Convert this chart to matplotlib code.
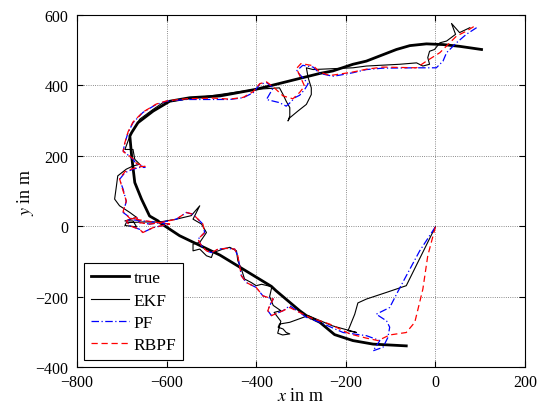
import numpy as np
import matplotlib
matplotlib.use('Agg')
import matplotlib.pyplot as plt

plt.rcParams['font.family'] = ['Liberation Serif', 'DejaVu Serif']
plt.rcParams['mathtext.fontset'] = 'stix'

# true trajectory
true_x = [-65, -139, -184, -225, -258, -288, -303, -356, -366, -481, -571, -615,
          -619, -638, -656, -671, -678, -682, -678, -664, -630, -593, -548, -481,
          -400, -258, -229, -184, -154, -87, -57, -20, 17, 54, 103]
true_y = [-340, -335, -325, -308, -273, -254, -240, -183, -171, -82, -27, 10,
          15, 29, 77, 124, 199, 256, 266, 294, 327, 355, 365, 370,
          389, 434, 441, 460, 469, 502, 513, 518, 516, 511, 502]

# EKF
ekf_x = [0, -65, -109, -154, -173, -180, -195, -176, -230, -284, -325, -348, -351,
         -340, -333, -325, -341, -352, -345, -360, -345, -362, -370, -365, -388,
         -400, -411, -426, -433, -441, -444, -459, -474, -496, -500, -511, -526,
         -541, -541, -526, -511, -522, -541, -526, -545, -578, -615, -653, -690,
         -693, -667, -675, -693, -667, -682, -705, -716, -712, -709, -690, -675,
         -660, -671, -675, -693, -682, -660, -630, -608, -563, -504, -400, -348,
         -340, -333, -325, -325, -329, -325, -307, -288, -277, -277, -284, -288,
         -273, -184, -154, -80, -42, -28, -13, -17, -13, -2, 10, 25, 45, 36, 54, 77]
ekf_y = [-2, -169, -188, -207, -218, -250, -297, -302, -283, -254, -273, -278, -287,
         -292, -302, -306, -309, -304, -270, -245, -240, -225, -200, -172, -165,
         -169, -160, -150, -122, -98, -70, -60, -65, -75, -89, -84, -65,
         -70, -51, -46, -18, 6, 20, 58, 30, 20, 12, 12, 10,
         2, -2, 15, 15, 25, 39, 58, 77, 114, 143, 162, 171,
         176, 190, 218, 218, 256, 304, 332, 351, 360, 370, 389, 393,
         374, 355, 337, 313, 299, 308, 327, 346, 374, 393, 422, 450,
         445, 450, 455, 460, 464, 455, 460, 479, 497, 502, 521, 526, 545, 576, 550, 564]

# PF
pf_x = [0, -35, -65, -83, -102, -132, -109, -102, -106, -117, -139, -124, -154,
        -206, -258, -288, -303, -325, -340, -366, -374, -370, -362, -385, -400,
        -422, -433, -437, -441, -448, -467, -485, -500, -511, -522, -530, -515,
        -519, -530, -541, -556, -578, -615, -638, -660, -667, -690, -682, -660,
        -653, -630, -593, -630, -675, -697, -690, -697, -705, -693, -675, -660,
        -648, -667, -675, -697, -693, -686, -675, -653, -623, -600, -556, -496,
        -459, -429, -407, -392, -377, -362, -377, -348, -333, -325, -314, -303,
        -292, -284, -310, -296, -273, -258, -229, -214, -184, -154, -117, -42,
        2, 17, 25, 47, 69, 92]
pf_y = [-2, -70, -141, -184, -231, -250, -269, -287, -316, -344, -354, -325, -311,
        -302, -273, -259, -245, -226, -240, -254, -240, -226, -207, -198, -174,
        -160, -141, -113, -84, -65, -63, -65, -75, -70, -56, -37, -18,
        6, 20, 34, 39, 20, 10, 6, 10, 25, 15, 1, -9,
        -18, -4, 6, 12, 18, 39, 70, 105, 133, 152, 162, 167,
        167, 176, 190, 214, 237, 266, 294, 323, 346, 355, 360, 360,
        360, 365, 379, 403, 408, 393, 360, 351, 341, 350, 365, 372,
        388, 405, 441, 457, 452, 434, 426, 429, 436, 445, 449, 450,
        450, 469, 493, 521, 545, 564]

# RBPF
rbpf_x = [0, -17, -28, -46, -65, -102, -128, -154, -191, -236, -281, -303, -325,
          -340, -366, -374, -370, -362, -385, -400, -422, -433, -437, -441, -448,
          -467, -485, -500, -511, -522, -530, -515, -519, -530, -541, -556, -578,
          -615, -638, -660, -667, -690, -682, -660, -653, -630, -593, -640, -682,
          -697, -690, -699, -705, -693, -675, -660, -648, -667, -675, -697, -693,
          -686, -675, -653, -623, -600, -556, -496, -459, -429, -407, -392, -377,
          -362, -340, -318, -303, -292, -300, -310, -300, -273, -258, -236, -214,
          -184, -154, -117, -42, -20, 10, 47, 69, 92]
rbpf_y = [-2, -84, -179, -273, -302, -309, -325, -318, -306, -278, -259, -245, -231,
          -240, -254, -240, -226, -207, -198, -174, -160, -141, -113, -84, -65,
          -63, -65, -75, -70, -56, -37, -18, 6, 20, 34, 39, 20,
          10, 6, 10, 25, 15, 1, -9, -18, -4, 6, 14, 22,
          42, 72, 108, 135, 155, 164, 169, 170, 178, 192, 212, 238,
          268, 296, 324, 347, 356, 362, 364, 361, 366, 382, 405, 410,
          396, 370, 362, 380, 398, 420, 448, 462, 456, 438, 428, 432,
          438, 446, 452, 450, 469, 493, 540, 554, 572]

fig = plt.figure(figsize=(5.48, 4.06), dpi=100)
ax = fig.add_axes([0.1405, 0.0936, 0.8175, 0.867])

ax.plot(true_x, true_y, color='black', lw=2.0, label='true')
ax.plot(ekf_x, ekf_y, color='black', lw=0.8, label='EKF')
ax.plot(pf_x, pf_y, color='blue', lw=0.9, ls='-.', dashes=(6, 2, 1, 2), label='PF')
ax.plot(rbpf_x, rbpf_y, color='red', lw=0.9, ls='--', dashes=(5, 3), label='RBPF')

ax.set_xlim(-800, 200)
ax.set_ylim(-400, 600)
ax.set_xticks(np.arange(-800, 201, 200))
ax.set_yticks(np.arange(-400, 601, 200))
ax.grid(True, ls=':', color='black', lw=0.6, alpha=0.6)
ax.tick_params(direction='in', top=True, right=True, labelsize=11.5, length=4)
ax.tick_params(axis='x', pad=5)
ax.tick_params(axis='y', pad=6)
for s in ax.spines.values():
    s.set_linewidth(0.8)

ax.set_xlabel('$x$ in m', fontsize=13, labelpad=-2)
ax.set_ylabel('$y$ in m', fontsize=13, labelpad=0)

leg = ax.legend(loc='lower left', fontsize=12.5, fancybox=False, framealpha=1,
                edgecolor='black', borderpad=0.4, labelspacing=0.35,
                handlelength=2.2, handletextpad=0.25, borderaxespad=0.4)
leg.get_frame().set_linewidth(0.8)

fig.savefig('out.png', dpi=100)
